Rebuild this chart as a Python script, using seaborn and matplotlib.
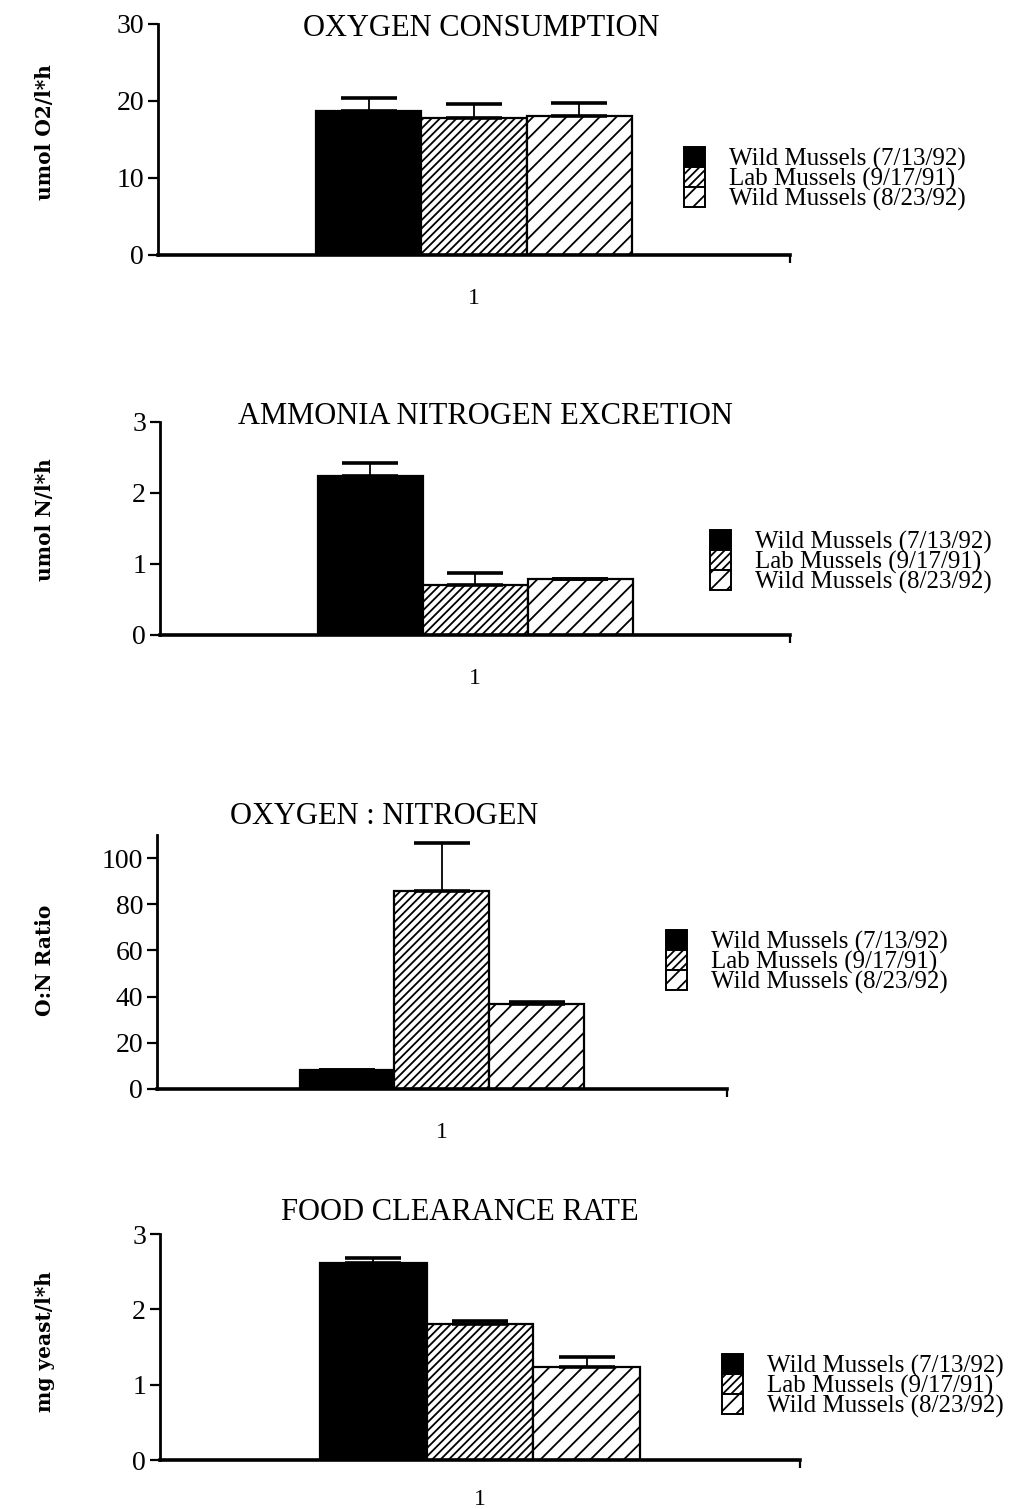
import matplotlib
matplotlib.use("Agg")
import matplotlib.pyplot as plt
from matplotlib.patches import Patch
import seaborn as sns
import pandas as pd

# ---- data -------------------------------------------------------------
series = ["Wild Mussels (7/13/92)", "Lab Mussels (9/17/91)", "Wild Mussels (8/23/92)"]
group_label = "1"

oxygen_mean = [18.7, 17.8, 18.0]
oxygen_err = [1.6, 1.8, 1.7]

ammonia_mean = [2.23, 0.70, 0.79]
ammonia_err = [0.18, 0.17, 0.0]

ratio_mean = [8.3, 85.8, 36.8]
ratio_err = [0.0, 20.7, 0.8]

clearance_mean = [2.61, 1.80, 1.23]
clearance_err = [0.07, 0.04, 0.14]

titles = ["OXYGEN CONSUMPTION", "AMMONIA NITROGEN EXCRETION",
          "OXYGEN : NITROGEN", "FOOD CLEARANCE RATE"]
ylabels = ["umol O2/l*h", "umol N/l*h", "O:N Ratio", "mg yeast/l*h"]
yticks = [[0, 10, 20, 30], [0, 1, 2, 3], [0, 20, 40, 60, 80, 100], [0, 1, 2, 3]]
ytops = [30, 3, 110, 3]

# ---- style ------------------------------------------------------------
sns.set_theme(style="white")
plt.rcParams["font.family"] = ["Liberation Serif", "DejaVu Serif"]
plt.rcParams["hatch.linewidth"] = 1.3
plt.rcParams["hatch.color"] = "black"
for key in ["text.color", "axes.labelcolor", "xtick.color", "ytick.color", "axes.edgecolor"]:
    plt.rcParams[key] = "black"

face_colors = ["black", "white", "white"]
hatches = ["", "////", "//"]

W, H = 1023, 1509
fig = plt.figure(figsize=(W / 100, H / 100), dpi=100)
fig.patch.set_facecolor("white")


def axes_px(left, right, top, bottom):
    return fig.add_axes([left / W, 1 - bottom / H, (right - left) / W, (bottom - top) / H])


# panel geometry in pixels: axes box, title centre, y-label centre, legend corner
panels = [
    dict(box=(158, 790, 23.5, 255), title=(481, 28), ylab=(45, 132), leg=(684, 147), pad=24),
    dict(box=(160, 790, 421.5, 635), title=(485, 417), ylab=(45, 520), leg=(710, 530), pad=24),
    dict(box=(157, 727, 835, 1089), title=(384, 816), ylab=(45, 960), leg=(666, 930), pad=24),
    dict(box=(160, 800, 1234, 1460), title=(460, 1212), ylab=(45, 1342), leg=(722, 1354), pad=21),
]
means = [oxygen_mean, ammonia_mean, ratio_mean, clearance_mean]
errs = [oxygen_err, ammonia_err, ratio_err, clearance_err]

for i, spec in enumerate(panels):
    ax = axes_px(*spec["box"])
    df = pd.DataFrame({"group": [group_label] * 3, "series": series, "value": means[i]})
    sns.barplot(data=df, x="group", y="value", hue="series", hue_order=series,
                palette=face_colors, saturation=1, width=1.0, errorbar=None,
                edgecolor="black", linewidth=1.6, legend=False, ax=ax)
    bars = list(ax.patches)
    for bar, h in zip(bars, hatches):
        bar.set_hatch(h)
        bar.set_edgecolor("black")

    # one-sided (upper) error bars centred on each bar
    xs = [b.get_x() + b.get_width() / 2 for b in bars]
    ax.errorbar(xs, means[i], yerr=[[0, 0, 0], errs[i]], fmt="none",
                ecolor="black", elinewidth=1.3, capsize=20, capthick=2.6, zorder=3)

    ax.set_xlim(-1, 1)
    ax.set_ylim(0, ytops[i])
    ax.set_yticks(yticks[i])
    ax.set_xticks([0])
    ax.set_xticklabels([group_label])
    ax.set_xticks([1], minor=True)
    ax.set_xlabel("")
    ax.set_ylabel("")
    sns.despine(ax=ax)
    ax.spines["left"].set_linewidth(2.0)
    ax.spines["bottom"].set_linewidth(2.6)
    ax.tick_params(axis="y", direction="out", length=7, width=1.6, pad=3,
                   labelsize=20, left=True)
    ax.tick_params(axis="x", which="major", length=0, pad=spec["pad"], labelsize=17, bottom=True)
    ax.tick_params(axis="x", which="minor", direction="out", length=6, width=1.6, bottom=True)
    ax.set_facecolor("white")
    ax.grid(False)

    tx, ty = spec["title"]
    fig.text(tx / W, 1 - ty / H, titles[i], ha="center", va="center", fontsize=22)
    lx, ly = spec["ylab"]
    fig.text(lx / W, 1 - ly / H, ylabels[i], ha="center", va="center", rotation=90,
             fontsize=14.5, family="DejaVu Serif", fontweight="bold")

    handles = [Patch(facecolor=c, edgecolor="black", hatch=h, linewidth=1.4)
               for c, h in zip(face_colors, hatches)]
    gx, gy = spec["leg"]
    ax.legend(handles, series, loc="upper left", bbox_to_anchor=(gx / W, 1 - gy / H),
              bbox_transform=fig.transFigure, frameon=False, fontsize=18,
              handlelength=0.85, handleheight=0.82, labelspacing=-0.15,
              handletextpad=0.95, borderpad=0, borderaxespad=0)

fig.savefig("out.png", dpi=100, facecolor="white")
